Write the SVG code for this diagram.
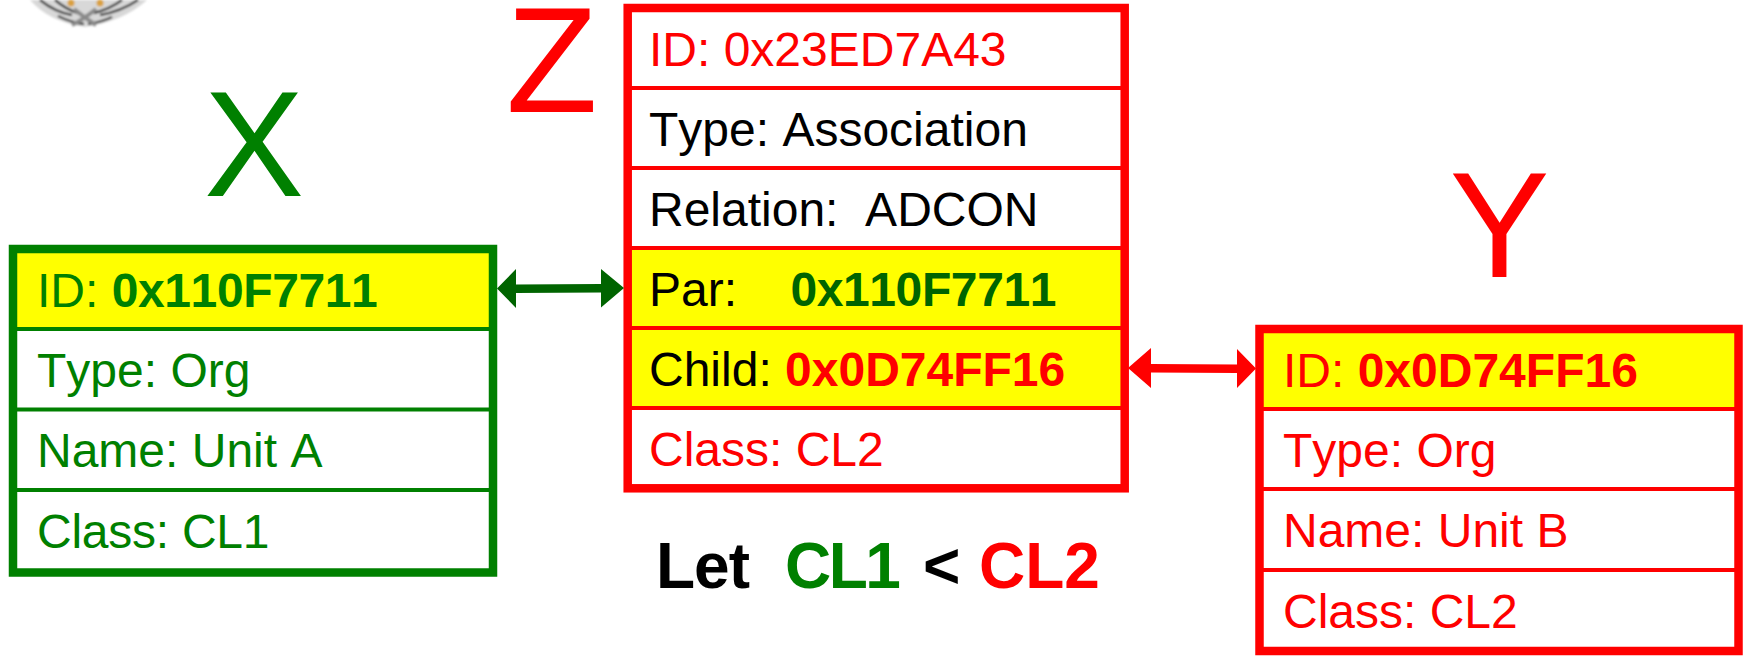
<svg xmlns="http://www.w3.org/2000/svg" width="1748" height="656" viewBox="0 0 1748 656">
<defs><filter id="soft" x="-5%" y="-5%" width="110%" height="110%"><feGaussianBlur stdDeviation="0.8"/></filter></defs>
<style>
text{font-family:"Liberation Sans",Arial,sans-serif;font-size:48px;font-kerning:none}
.b{font-weight:bold}
.t{letter-spacing:-0.39px}
.big{font-size:150px}
.note{font-size:64px;font-weight:bold}
.g{fill:#008000}.dg{fill:#006400}.r{fill:#f00}.k{fill:#000}
.hl{fill:#ff0}
.frG{fill:none;stroke:#008000;stroke-width:8.5}
.frR{fill:none;stroke:#f00;stroke-width:8.5}
.dG{stroke:#008000;stroke-width:4}
.dR{stroke:#f00;stroke-width:4}
</style>
<rect width="1748" height="656" fill="#fff"/>
<g id="node-x">
<rect class="hl" x="13" y="249" width="480" height="80"/>
<path class="dG" d="M13 329H493M13 409.500H493M13 490H493"/>
<rect class="frG" x="13" y="249" width="480" height="323.500"/>
<text x="37" y="306.500" class="g">ID: <tspan class="b t">0x110F7711</tspan></text>
<text x="37" y="387" class="g">Type: Org</text>
<text x="37" y="467" class="g">Name: Unit A</text>
<text x="37" y="548" class="g" style="letter-spacing:-0.25px">Class: CL1</text>
<text x="204" y="195.500" class="big g">X</text>
</g>
<g id="node-z">
<rect class="hl" x="628" y="248" width="497" height="160"/>
<path class="dR" d="M628 88H1125M628 168H1125M628 248H1125M628 328H1125M628 408H1125"/>
<rect class="frR" x="627.700" y="8" width="497" height="480.300"/>
<text x="649" y="66" class="r">ID: 0x23ED7A43</text>
<text x="649" y="146" class="k">Type: Association</text>
<text x="649" y="226" class="k" xml:space="preserve">Relation:  ADCON</text>
<text x="649" y="306" class="k" xml:space="preserve">Par:    <tspan class="b t dg">0x110F7711</tspan></text>
<text x="649" y="386" class="k">Child: <tspan class="b r">0x0D74FF16</tspan></text>
<text x="649" y="466" class="r">Class: CL2</text>
<text x="506" y="111.500" class="big r">Z</text>
</g>
<g id="node-y">
<rect class="hl" x="1259.500" y="329" width="479" height="80"/>
<path class="dR" d="M1259.500 409H1738.500M1259.500 489H1738.500M1259.500 570H1738.500"/>
<rect class="frR" x="1259.500" y="329" width="479" height="322"/>
<text x="1283" y="386.500" class="r">ID: <tspan class="b">0x0D74FF16</tspan></text>
<text x="1283" y="467" class="r">Type: Org</text>
<text x="1283" y="547" class="r">Name: Unit B</text>
<text x="1283" y="627.500" class="r">Class: CL2</text>
<text x="1449.500" y="276.500" class="big r">Y</text>
</g>
<g id="connectors">
<path class="dg" d="M497 288.500L516 269V284.500L601 284V269L624 288L601 307.500V292.500L516 293V308Z"/>
<path class="r" d="M1128 368L1151 348V364L1237 364.500V349L1256 368.500L1237 388V373L1151 372.500V388Z"/>
</g>
<g id="note">
<text x="656" y="587.500" class="note" style="letter-spacing:-1px">Let</text>
<text x="785" y="587.500" class="note g" style="letter-spacing:-2.500px">CL1</text>
<text x="923" y="587.500" class="note">&lt;</text>
<text x="979" y="587.500" class="note r">CL2</text>
</g>
<g id="emblem" filter="url(#soft)">
<path d="M30 0C42 14 62 24 85 27C108 24 132 14 147 0Z" fill="#d8d8d8"/>
<g fill="none" stroke="#3c3c3c" stroke-width="2.500">
<path d="M40 0C50 8 60 13 72 15M58 16C66 20 74 23 84 24"/>
<path d="M138 0C126 8 112 13 100 15M112 17C104 21 96 23 88 24"/>
<path d="M55 0C62 6 68 10 78 13M122 0C114 6 106 10 94 13"/>
</g>
<path d="M72 25C82 20 90 14 96 9M96 25C88 20 80 14 74 9" fill="none" stroke="#8a8a8a" stroke-width="4"/>
<circle cx="71" cy="3" r="3.500" fill="#d9a040"/>
<circle cx="100" cy="3" r="3.500" fill="#d9a040"/>
</g>
</svg>
